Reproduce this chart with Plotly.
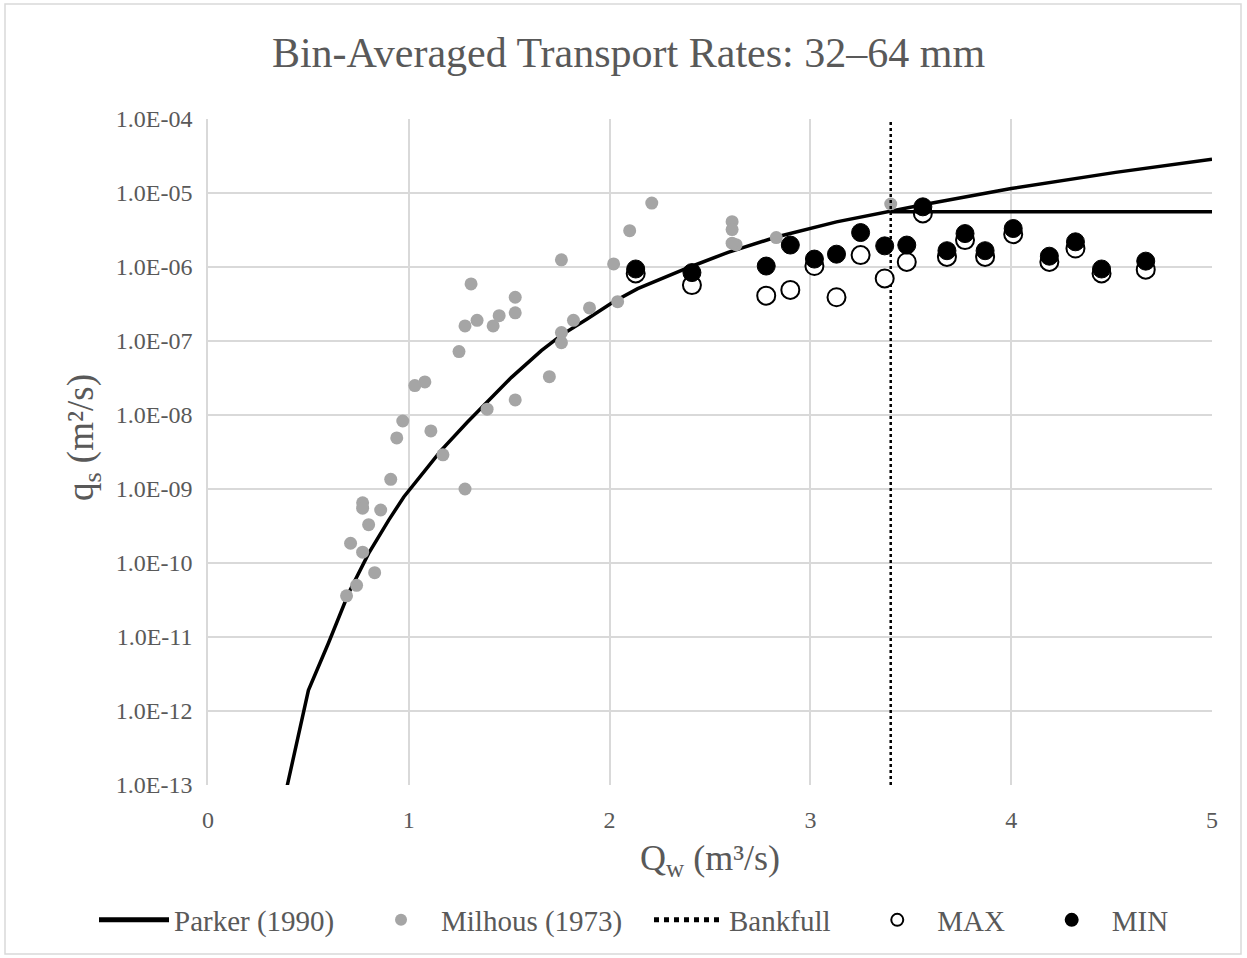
import plotly.graph_objects as go

# Parker (1990) curve
parker_x = [0.35, 0.5, 0.6, 0.7, 0.8, 0.9, 0.975, 1.16, 1.29, 1.39, 1.51, 1.66, 1.76, 1.89, 2.02, 2.14,
            2.40, 2.59, 2.83, 3.13, 3.40, 3.58, 4.0, 4.52, 5.0]
parker_y = [2.8e-14, 1.9e-12, 8.3e-12, 3.9e-11, 1.35e-10, 3.8e-10, 7.8e-10, 3.3e-9, 7.9e-9, 1.5e-8, 3.2e-8, 7.4e-8, 1.2e-7, 2.0e-7, 3.4e-7, 5.1e-7,
            1.0e-6, 1.58e-6, 2.54e-6, 4.07e-6, 5.71e-6, 7.1e-6, 1.15e-5, 1.9e-5, 2.85e-5]

# Parker capped at bankfull (no legend entry)
cap_x = [3.40, 5.0]
cap_y = [5.6e-6, 5.6e-6]

# Milhous (1973)
milhous_x = [2.21, 2.10, 2.61, 2.61, 2.63, 2.61, 2.83, 3.40, 2.02, 1.76, 2.04, 1.90, 1.82, 1.76, 1.76, 1.70,
             1.53, 1.53, 1.53, 1.31, 1.45, 1.42, 1.34, 1.28, 1.25, 1.39, 1.08, 1.03, 0.97, 0.94, 1.11, 1.17,
             1.28, 0.91, 0.77, 0.77, 0.86, 0.80, 0.71, 0.77, 0.83, 0.74, 0.69]
milhous_y = [7.3e-6, 3.1e-6, 4.1e-6, 3.2e-6, 2.0e-6, 2.1e-6, 2.5e-6, 7.1e-6, 1.1e-6, 1.25e-6, 3.4e-7, 2.8e-7, 1.9e-7, 1.3e-7, 9.5e-8, 3.3e-8,
             3.9e-7, 2.4e-7, 1.6e-8, 5.9e-7, 2.2e-7, 1.6e-7, 1.9e-7, 1.6e-7, 7.2e-8, 1.2e-8, 2.8e-8, 2.5e-8, 8.3e-9, 4.9e-9, 6.1e-9, 2.9e-9,
             1.0e-9, 1.35e-9, 6.5e-10, 5.5e-10, 5.2e-10, 3.3e-10, 1.85e-10, 1.4e-10, 7.4e-11, 5.0e-11, 3.6e-11]

# Bankfull discharge
bankfull_x = 3.40

# Bin-averaged rates
bin_x = [2.13, 2.41, 2.78, 2.90, 3.02, 3.13, 3.25, 3.37, 3.48, 3.56, 3.68, 3.77, 3.87, 4.01, 4.19, 4.32, 4.45, 4.67]
max_y = [8.2e-7, 5.7e-7, 4.1e-7, 4.9e-7, 1.03e-6, 3.9e-7, 1.45e-6, 7.0e-7, 1.17e-6, 5.3e-6, 1.37e-6, 2.31e-6, 1.37e-6, 2.78e-6, 1.17e-6, 1.78e-6, 8.2e-7, 9.2e-7]
min_y = [9.4e-7, 8.4e-7, 1.03e-6, 1.98e-6, 1.28e-6, 1.49e-6, 2.92e-6, 1.93e-6, 1.98e-6, 6.5e-6, 1.66e-6, 2.83e-6, 1.66e-6, 3.31e-6, 1.40e-6, 2.19e-6, 9.4e-7, 1.20e-6]

y_ticks = [1e-13, 1e-12, 1e-11, 1e-10, 1e-9, 1e-8, 1e-7, 1e-6, 1e-5, 1e-4]
y_tick_text = ["1.0E-13", "1.0E-12", "1.0E-11", "1.0E-10", "1.0E-09", "1.0E-08", "1.0E-07", "1.0E-06", "1.0E-05", "1.0E-04"]
x_ticks = [0, 1, 2, 3, 4, 5]

FONT = "Liberation Serif"
TXT = "#595959"
GRID = "#d9d9d9"
PAD = "\u00a0" * 3

fig = go.Figure()
fig.add_trace(go.Scatter(x=parker_x, y=parker_y, mode="lines", name="Parker (1990)" + PAD,
                         line=dict(color="black", width=3.5)))
fig.add_trace(go.Scatter(x=milhous_x, y=milhous_y, mode="markers", name="Milhous (1973)" + PAD,
                         marker=dict(color="#a5a5a5", size=13)))
fig.add_trace(go.Scatter(x=[bankfull_x, bankfull_x], y=[1e-13, 1e-4], mode="lines", name="Bankfull" + PAD,
                         line=dict(color="black", width=2.5, dash="dot")))
fig.add_trace(go.Scatter(x=bin_x, y=max_y, mode="markers", name="MAX" + PAD,
                         marker=dict(color="white", size=18, line=dict(color="black", width=2))))
fig.add_trace(go.Scatter(x=bin_x, y=min_y, mode="markers", name="MIN",
                         marker=dict(color="black", size=18, line=dict(color="black", width=1))))
fig.add_trace(go.Scatter(x=cap_x, y=cap_y, mode="lines", showlegend=False,
                         line=dict(color="black", width=3.5)))

# outer chart border
L, R, T, B = 208, 35, 119, 173
W, H = 1247, 958
pw, ph = W - L - R, H - T - B
fig.add_shape(type="rect", xref="paper", yref="paper",
              x0=(5 - L) / pw, x1=(1241 - L) / pw,
              y0=(H - B - 954) / ph, y1=(H - B - 4) / ph,
              line=dict(color=GRID, width=1.5), layer="below")

# y-axis title
fig.add_annotation(text="q<sub>s</sub> (m²/s)", textangle=-90, xref="paper", yref="paper",
                   x=(83 - L) / pw, y=(H - B - 438) / ph, xanchor="center", yanchor="middle",
                   showarrow=False, font=dict(size=37, color=TXT, family=FONT))

fig.update_layout(
    width=W, height=H,
    margin=dict(l=L, r=R, t=T, b=B),
    paper_bgcolor="white", plot_bgcolor="white",
    font=dict(family=FONT, color=TXT),
    title=dict(text="Bin-Averaged Transport Rates: 32–64 mm", font=dict(size=42, color=TXT, family=FONT),
               x=0.504, xref="container", xanchor="center", y=1 - 52 / H, yanchor="middle"),
    xaxis=dict(range=[0, 5], tickvals=x_ticks, showgrid=True, gridcolor=GRID, gridwidth=1.5,
               zeroline=False, showline=False, tickfont=dict(size=24, color=TXT), ticks="",
               ticklabelstandoff=18,
               title=dict(text="Q<sub>w</sub> (m³/s)", font=dict(size=36, color=TXT), standoff=12)),
    yaxis=dict(type="log", range=[-13, -4], tickvals=y_ticks, ticktext=y_tick_text, showgrid=True,
               gridcolor=GRID, gridwidth=1.5, zeroline=False, showline=True, linecolor=GRID, linewidth=1.5,
               tickfont=dict(size=24, color=TXT), ticks="", ticklabelstandoff=9),
    legend=dict(orientation="h", x=(94 - L) / pw, xanchor="left", y=(H - B - 920) / ph, yanchor="middle",
                font=dict(size=29, color=TXT, family=FONT), itemsizing="constant", itemwidth=70,
                bgcolor="rgba(0,0,0,0)"),
    showlegend=True,
)

fig.write_html("out.html")
